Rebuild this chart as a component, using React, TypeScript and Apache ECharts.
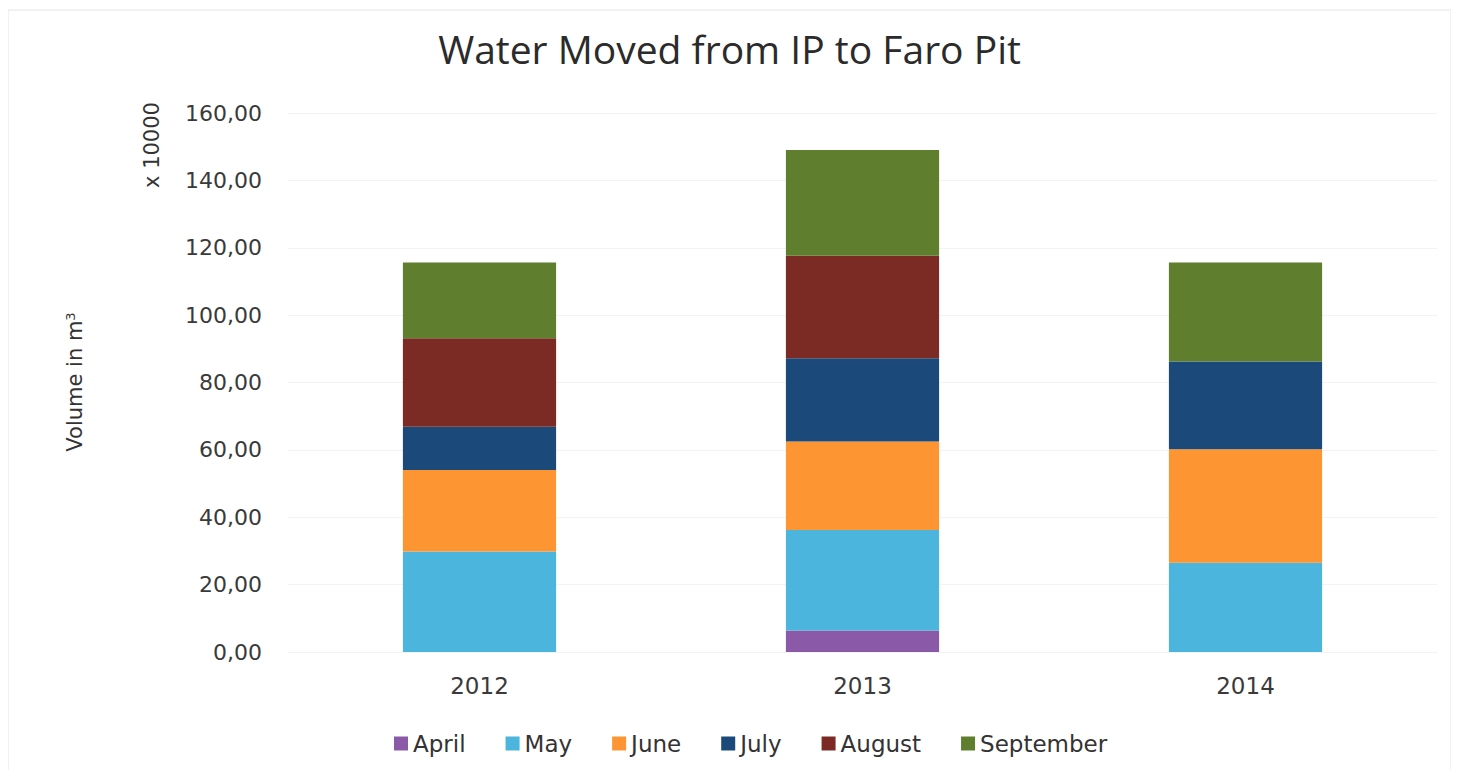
import React, { useEffect, useRef } from "react";
import * as echarts from "echarts";

const years = ["2012", "2013", "2014"];
const months = ["April", "May", "June", "July", "August", "September"];
const april = [0, 6.4, 0];
const may = [29.8, 29.8, 26.5];
const june = [24.2, 26.3, 33.7];
const july = [12.9, 24.7, 26.0];
const august = [26.2, 30.4, 0];
const september = [22.5, 31.4, 29.4];
const colors = ["#8a5aa8", "#4bb5dd", "#fd9632", "#1b4a7a", "#7b2b24", "#5f7f2f"];
const yTicks = { min: 0, max: 160, interval: 20 };

const TITLE_FONT = "'Open Sans', sans-serif";
const FONT = "'DejaVu Sans', sans-serif";

export default function App() {
  const ref = useRef<HTMLDivElement>(null);
  useEffect(() => {
    if (!ref.current) return;
    const chart = echarts.init(ref.current, null, { renderer: "svg" });
    const values = [april, may, june, july, august, september];
    chart.setOption({
      animation: false,
      backgroundColor: "#ffffff",
      color: colors,
      title: {
        text: "Water Moved from IP to Faro Pit",
        left: "center",
        top: 24,
        textStyle: { fontFamily: TITLE_FONT, fontSize: 39, fontWeight: "normal", color: "#2b2b2b" },
      },
      grid: { left: 288, right: 22, top: 113, bottom: 126 },
      xAxis: {
        type: "category",
        data: years,
        axisLine: { show: false },
        axisTick: { show: false },
        axisLabel: { fontFamily: FONT, fontSize: 23, color: "#3a3a3a", margin: 22 },
      },
      yAxis: {
        type: "value",
        min: yTicks.min,
        max: yTicks.max,
        interval: yTicks.interval,
        axisLine: { show: false },
        axisTick: { show: false },
        axisLabel: {
          fontFamily: FONT,
          fontSize: 22,
          color: "#3a3a3a",
          margin: 26,
          formatter: (v: number) => v.toFixed(2).replace(".", ","),
        },
        splitLine: { lineStyle: { color: "#f3f3f3", width: 1 } },
      },
      legend: {
        data: months,
        top: 727,
        left: 389,
        itemWidth: 14,
        itemHeight: 14,
        itemGap: 40,
        icon: "rect",
        textStyle: { fontFamily: FONT, fontSize: 23, color: "#333" },
      },
      series: months.map((m, i) => ({
        name: m,
        type: "bar",
        stack: "total",
        barWidth: "40%",
        data: values[i],
        itemStyle: { color: colors[i] },
      })),
      graphic: [
        {
          type: "rect",
          shape: { x: 8, y: 10, width: 1443, height: 762 },
          style: { fill: "none", stroke: "#e4e4e4", lineWidth: 1 },
          silent: true,
        },
        {
          type: "text",
          x: 75,
          y: 382,
          rotation: Math.PI / 2,
          style: {
            text: "Volume in m{sup|3}",
            fontFamily: FONT,
            fontSize: 21,
            fill: "#333",
            align: "center",
            verticalAlign: "middle",
            rich: {
              sup: { fontFamily: FONT, fontSize: 13, fill: "#333", verticalAlign: "top", padding: [0, 0, 10, 0] },
            },
          },
        },
        {
          type: "text",
          x: 152,
          y: 145,
          rotation: Math.PI / 2,
          style: {
            text: "x 10000",
            fontFamily: FONT,
            fontSize: 21,
            fill: "#333",
            align: "center",
            verticalAlign: "middle",
          },
        },
      ],
    });
    return () => chart.dispose();
  }, []);
  return <div ref={ref} style={{ width: 1459, height: 778, margin: -8 }} />;
}
